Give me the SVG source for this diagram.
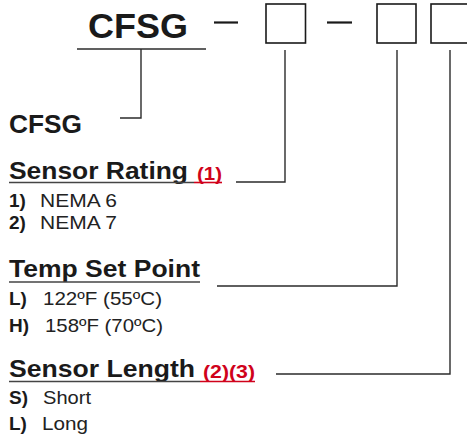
<svg xmlns="http://www.w3.org/2000/svg" width="467" height="438" viewBox="0 0 467 438">
<style>
.t{font-family:"Liberation Sans",Arial,Helvetica,sans-serif;}
.b{font-weight:bold;fill:#1a1a1a;}
.r{font-weight:normal;fill:#222;}
.red{font-weight:bold;fill:#d0021b;}
.ln{stroke:#2b2b2b;stroke-width:1.4;fill:none;}
.box{stroke:#1a1a1a;stroke-width:1.6;fill:#fff;}
.dash{stroke:#1a1a1a;stroke-width:2.2;}
.ul{stroke:#444;stroke-width:1.6;}
.ulr{stroke:#d0021b;stroke-width:1.6;}
</style>
<rect width="467" height="438" fill="#fff"/>
<g id="title">
<text class="t b" x="88" y="38" font-size="35" textLength="100" lengthAdjust="spacingAndGlyphs">CFSG</text>
<line class="dash" x1="214" y1="22.5" x2="238" y2="22.5"/>
<rect class="box" x="266" y="4" width="39.5" height="39"/>
<line class="dash" x1="327" y1="22.5" x2="352" y2="22.5"/>
<rect class="box" x="377" y="4" width="39" height="39"/>
<rect class="box" x="431" y="4" width="39" height="39"/>
</g>
<g id="connectors">
<polyline class="ln" points="77,49 206,49"/>
<polyline class="ln" points="141,49 141,118 120,118"/>
<polyline class="ln" points="285,50 285,182 236,182"/>
<polyline class="ln" points="397,50 397,286 217,286"/>
<polyline class="ln" points="450,50 450,374 276,374"/>
</g>
<g id="cfsg">
<text class="t b" x="9" y="133" font-size="25" textLength="73" lengthAdjust="spacingAndGlyphs">CFSG</text>
</g>
<g id="sensor-rating">
<text class="t b" x="9" y="179" font-size="24" textLength="179" lengthAdjust="spacingAndGlyphs">Sensor Rating</text>
<text class="t red" x="197" y="180" font-size="18" textLength="25" lengthAdjust="spacingAndGlyphs">(1)</text>
<line class="ul" x1="9" y1="182.5" x2="194" y2="182.5"/>
<line class="ulr" x1="194" y1="182.5" x2="222" y2="182.5"/>
<text class="t b" x="9" y="207" font-size="19">1)</text>
<text class="t r" x="40" y="207" font-size="19" textLength="77" lengthAdjust="spacingAndGlyphs">NEMA 6</text>
<text class="t b" x="9" y="229" font-size="19">2)</text>
<text class="t r" x="40" y="229" font-size="19" textLength="77" lengthAdjust="spacingAndGlyphs">NEMA 7</text>
</g>
<g id="temp-set-point">
<text class="t b" x="9" y="277" font-size="24" textLength="191" lengthAdjust="spacingAndGlyphs">Temp Set Point</text>
<line class="ul" x1="9" y1="282" x2="200" y2="282"/>
<text class="t b" x="9" y="305" font-size="19">L)</text>
<text class="t r" x="43" y="305" font-size="19" textLength="119" lengthAdjust="spacingAndGlyphs">122ºF (55ºC)</text>
<text class="t b" x="9" y="332" font-size="19">H)</text>
<text class="t r" x="45" y="332" font-size="19" textLength="118" lengthAdjust="spacingAndGlyphs">158ºF (70ºC)</text>
</g>
<g id="sensor-length">
<text class="t b" x="9" y="377" font-size="24" textLength="186" lengthAdjust="spacingAndGlyphs">Sensor Length</text>
<text class="t red" x="203" y="378" font-size="18" textLength="52" lengthAdjust="spacingAndGlyphs">(2)(3)</text>
<line class="ul" x1="9" y1="381.5" x2="200" y2="381.5"/>
<line class="ulr" x1="200" y1="381.5" x2="255" y2="381.5"/>
<text class="t b" x="9" y="404" font-size="19">S)</text>
<text class="t r" x="43" y="404" font-size="19" textLength="48" lengthAdjust="spacingAndGlyphs">Short</text>
<text class="t b" x="9" y="430" font-size="19">L)</text>
<text class="t r" x="42" y="430" font-size="19" textLength="46" lengthAdjust="spacingAndGlyphs">Long</text>
</g>
</svg>
